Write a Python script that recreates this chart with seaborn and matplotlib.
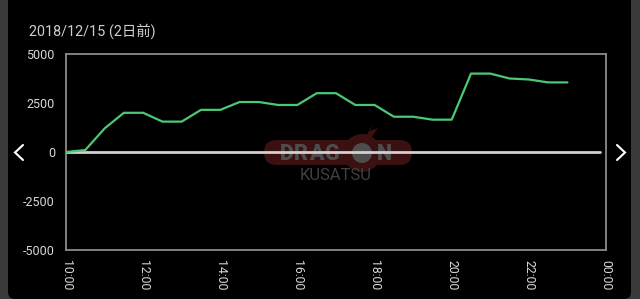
import matplotlib
matplotlib.use("Agg")
import matplotlib.pyplot as plt
import seaborn as sns
import pandas as pd
from matplotlib.patches import FancyBboxPatch, Circle, Polygon
from matplotlib.lines import Line2D

# ---- data ----
times = ["10:00", "10:30", "11:00", "11:30", "12:00", "12:30", "13:00", "13:30",
         "14:00", "14:30", "15:00", "15:30", "16:00", "16:30", "17:00", "17:30",
         "18:00", "18:30", "19:00", "19:30", "20:00", "20:30", "21:00", "21:30",
         "22:00", "22:30", "23:00"]
values = [0, 100, 1200, 2000, 2000, 1550, 1550, 2150, 2150, 2550, 2550, 2400,
          2400, 3000, 3000, 2400, 2400, 1800, 1800, 1650, 1650, 4000, 4000,
          3750, 3700, 3550, 3550]
x_ticks = [10, 12, 14, 16, 18, 20, 22, 24]
x_tick_labels = ["10:00", "12:00", "14:00", "16:00", "18:00", "20:00", "22:00", "00:00"]
y_ticks = [-5000, -2500, 0, 2500, 5000]
y_tick_labels = ["-5000", "-2500", "0", "2500", "5000"]
title = "2018/12/15 (2日前)"

def to_hours(t):
    h, m = t.split(":")
    return int(h) + int(m) / 60.0

df = pd.DataFrame({"hour": [to_hours(t) for t in times], "value": values})

sns.set_theme(style="dark")
plt.rcParams["font.family"] = ["Roboto", "Noto Sans CJK JP", "DejaVu Sans"]

W, H = 640, 299
fig = plt.figure(figsize=(W / 100, H / 100), dpi=100)
fig.patch.set_facecolor("#3a3a3a")
px = fig.dpi_scale_trans  # inches; 1 px = 0.01 in


def P(x, y):
    """pixel (from top-left) -> inches from bottom-left"""
    return x / 100, (H - y) / 100


# black panel with rounded bottom corners
x0, y0 = P(8, 299)
fig.patches.append(FancyBboxPatch((x0, y0), (631 - 8) / 100, 4.0,
                                  boxstyle="round,pad=0,rounding_size=0.07",
                                  transform=px, facecolor="black",
                                  edgecolor="none", zorder=-10))

# watermark (logo)
wm_red = "#3a1010"
wm_grey = "#4d4d4d"
x0, y0 = P(264, 165)
fig.patches.append(FancyBboxPatch((x0, y0), (412 - 264) / 100, (165 - 140) / 100,
                                  boxstyle="round,pad=0,rounding_size=0.125",
                                  transform=px, facecolor=wm_red,
                                  edgecolor="none", zorder=-6))
cx, cy = P(362, 153)
fig.patches.append(Circle((cx, cy), 0.19, transform=px, facecolor=wm_red,
                          edgecolor="none", zorder=-6))
fig.patches.append(Circle((cx, cy), 0.10, transform=px, facecolor=wm_grey,
                          edgecolor="none", zorder=-4))
flame = [P(366, 136), P(373, 124), P(370, 131), P(378, 128), P(372, 137)]
fig.patches.append(Polygon(flame, closed=True, transform=px, facecolor=wm_red,
                           edgecolor="none", zorder=-6))
for ch, xc in zip("DRAG", [287, 301, 316, 331]):
    tx, ty = P(xc, 153.5)
    fig.text(tx, ty, ch, ha="center", va="center", transform=px,
             fontsize=15.5, fontweight="black", color=wm_grey, family="Roboto",
             zorder=-4)
tx, ty = P(384, 153.5)
fig.text(tx, ty, "N", ha="center", va="center", transform=px,
         fontsize=15.5, fontweight="black", color=wm_grey, family="Roboto", zorder=-4)
tx, ty = P(335.5, 176)
fig.text(tx, ty, "KUSATSU", ha="center", va="center", transform=px,
         fontsize=12, color="#404040", family="Roboto", zorder=-4)

ax = fig.add_axes([66 / W, 1 - 250 / H, (606 - 66) / W, (250 - 54) / H])
ax.set_facecolor("none")
ax.set_zorder(5)

# zero line
ax.axhline(0, xmin=0, xmax=(600 - 66) / (606 - 66), color="#d0d0d0", lw=2.0, zorder=2)

sns.lineplot(data=df, x="hour", y="value", ax=ax, color="#4cc874",
             linewidth=1.6, zorder=3)

ax.set_xlim(10, 24)
ax.set_ylim(-5000, 5000)
ax.set_xticks(x_ticks)
ax.set_xticklabels(x_tick_labels, rotation=-90, color="#d8d8d8", fontsize=8.8)
ax.set_yticks(y_ticks)
ax.set_yticklabels(y_tick_labels, color="#d8d8d8", fontsize=9)
ax.set_xlabel("")
ax.set_ylabel("")
ax.grid(False)
for s in ax.spines.values():
    s.set_visible(True)
    s.set_color("#8a8a8a")
    s.set_linewidth(1.3)
ax.tick_params(axis="both", which="both", length=4, width=1.2, color="#8a8a8a",
               direction="out", pad=4)
ax.tick_params(axis="x", pad=3)

fig.text(29 / W, 1 - 31 / H, title, ha="left", va="center", fontsize=10.4,
         color="#cfcfcf", family=["Roboto", "Noto Sans CJK JP"])

# navigation chevrons
for pts in ([(23, 145), (15, 152.5), (23, 160)], [(617, 145), (625, 152.5), (617, 160)]):
    xs = [p[0] / W for p in pts]
    ys = [1 - p[1] / H for p in pts]
    fig.lines.append(Line2D(xs, ys, transform=fig.transFigure, color="white",
                            lw=1.5, solid_capstyle="round", solid_joinstyle="miter"))

fig.savefig("out.png", dpi=100, facecolor=fig.get_facecolor())
